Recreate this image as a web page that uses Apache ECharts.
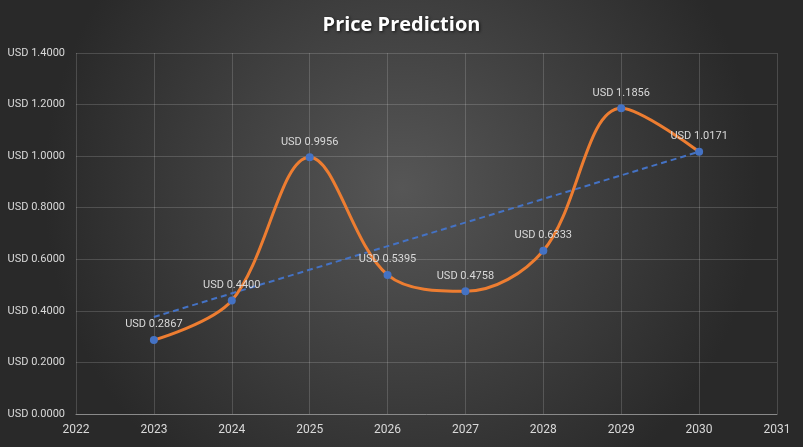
<!DOCTYPE html>
<html><head><meta charset="utf-8">
<script src="https://cdn.jsdelivr.net/npm/echarts@6/dist/echarts.min.js"></script>
<style>html,body{margin:0;padding:0;background:#333;}#c{width:803px;height:447px;}</style>
</head><body><div id="c"></div>
<script>
const years = [2023, 2024, 2025, 2026, 2027, 2028, 2029, 2030];
const prices = [0.2867, 0.4400, 0.9956, 0.5395, 0.4758, 0.6333, 1.1856, 1.0171];
const xTickMin = 2022, xTickMax = 2031;
const yTickMin = 0, yTickMax = 1.4, yStep = 0.2;

// linear trendline (least squares) computed from the data
const n = years.length;
const mx = years.reduce((a,b)=>a+b,0)/n, my = prices.reduce((a,b)=>a+b,0)/n;
let sxy = 0, sxx = 0;
years.forEach((x,i)=>{ sxy += (x-mx)*(prices[i]-my); sxx += (x-mx)*(x-mx); });
const slope = sxy/sxx, icpt = my - slope*mx;
const trend = [years[0], years[n-1]].map(x => [x, icpt + slope*x]);

const chart = echarts.init(document.getElementById('c'));
chart.setOption({
  backgroundColor: {
    type: 'radial', x: 0.5, y: 0.42, r: 0.8,
    colorStops: [{offset: 0, color: '#565656'}, {offset: 1, color: '#292929'}]
  },
  title: {
    text: 'Price Prediction', left: 'center', top: 10,
    textStyle: {
      color: '#ffffff', fontSize: 20, fontWeight: 'bold', fontFamily: 'Open Sans',
      textShadowColor: 'rgba(0,0,0,0.7)', textShadowBlur: 3, textShadowOffsetX: 1, textShadowOffsetY: 1
    }
  },
  grid: {left: 76, right: 26, top: 53, bottom: 33},
  xAxis: {
    type: 'value', min: xTickMin, max: xTickMax, interval: 1,
    axisLine: {show: true, lineStyle: {color: '#8a8a8a', width: 1}},
    axisTick: {show: false},
    axisLabel: {color: '#d9d9d9', fontSize: 12, fontFamily: 'Roboto', margin: 10, formatter: v => String(v)},
    splitLine: {show: true, lineStyle: {color: 'rgba(255,255,255,0.16)', width: 1}}
  },
  yAxis: {
    type: 'value', min: yTickMin, max: yTickMax, interval: yStep,
    axisLine: {show: false}, axisTick: {show: false},
    axisLabel: {color: '#d9d9d9', fontSize: 11, fontFamily: 'Roboto', margin: 11,
      formatter: v => 'USD ' + v.toFixed(4)},
    splitLine: {show: true, lineStyle: {color: 'rgba(255,255,255,0.16)', width: 1}}
  },
  series: [
    {
      type: 'line', data: trend, symbol: 'none', silent: true, z: 3,
      lineStyle: {color: '#4472C4', width: 2, type: [6, 4]}
    },
    {
      type: 'line', data: years.map((x,i)=>[x, prices[i]]), smooth: 0.35, z: 4,
      symbol: 'circle', symbolSize: 8,
      itemStyle: {color: '#4472C4'},
      lineStyle: {color: '#ED7D31', width: 3},
      label: {show: true, position: 'top', distance: 6, color: '#d9d9d9', fontSize: 11, fontFamily: 'Roboto',
        formatter: p => 'USD ' + p.value[1].toFixed(4)}
    }
  ]
});
</script></body></html>
